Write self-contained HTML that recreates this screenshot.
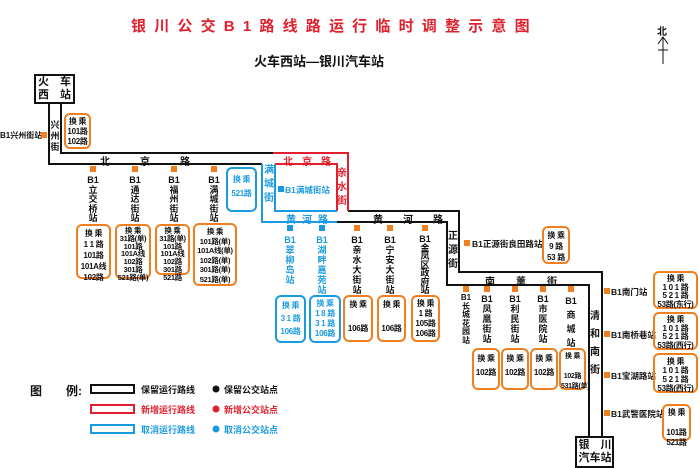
<!DOCTYPE html>
<html><head><meta charset="utf-8"><style>
body{margin:0;width:700px;height:468px;background:#fff;position:relative;overflow:hidden;font-family:"Liberation Sans","Noto Sans CJK SC",sans-serif;font-weight:bold;color:#111}
div{position:absolute;white-space:nowrap}
.v{font-size:9px;line-height:9.5px;text-align:center;width:14px}
.o{border:2px solid #f07f1f;border-radius:6px;font-size:8px;line-height:10px;text-align:center;box-sizing:border-box;padding-top:2px;letter-spacing:-0.3px;overflow:visible}
.b{border-color:#1a9be0;color:#1a9be0}
.m{width:6px;height:6px;background:#f07f1f}
.mb{background:#1a9be0}
.t{font-size:9px}
.bl{color:#1a9be0}
</style></head><body>
<svg width="700" height="468" style="position:absolute;left:0;top:0" fill="none" stroke-width="2">
<g stroke="#111">
<rect x="35" y="75" width="39" height="28" fill="#fff"/>
<polyline points="49,103 49,164 262,164"/>
<polyline points="61,103 61,153 273,153"/>
<polyline points="348,211 459,211 459,272 602,272 602,437"/>
<polyline points="337,222 447,222 447,285 589,285 589,437"/>
<rect x="576" y="437" width="37" height="30" fill="#fff"/>
<line x1="663" y1="37" x2="663" y2="64" stroke-width="1"/>
<polyline points="658,44 663,37 668,44" stroke-width="1"/>
<line x1="658" y1="50" x2="668" y2="50" stroke-width="1"/>
</g>
<g stroke="#e0202e">
<polyline points="273,153 348,153 348,211"/>
<polyline points="275,164 337,164 337,211"/>
</g>
<g stroke="#1a9be0">
<polyline points="262,164 262,222 337,222"/>
<polyline points="275,164 275,211 337,211"/>
</g>
<rect x="91" y="385" width="43" height="8" stroke="#111" stroke-width="2"/>
<rect x="91" y="405" width="43" height="8" stroke="#e0202e" stroke-width="2"/>
<rect x="91" y="425" width="43" height="8" stroke="#1a9be0" stroke-width="2"/>
<circle cx="216" cy="389" r="3.5" fill="#111" stroke="none"/>
<circle cx="216" cy="409" r="3.5" fill="#e0202e" stroke="none"/>
<circle cx="216" cy="429" r="3.5" fill="#1a9be0" stroke="none"/>
</svg>

<div style="left:131px;top:15px;font-size:15px;color:#e0202e;letter-spacing:8.2px">银川公交B1路线路运行临时调整示意图</div>
<div style="left:254px;top:51px;font-size:13px">火车西站—银川汽车站</div>
<div style="left:657px;top:23px;font-size:10px">北</div>

<div style="left:38px;top:76px;font-size:11px;line-height:13px">火　车<br>西　站</div>
<div style="left:578px;top:439px;font-size:11px;line-height:13px;width:34px;text-align:center">银　川<br>汽车站</div>

<div class="v" style="left:48px;top:120px;line-height:11px">兴<br>州<br>街</div>
<div class="t" style="left:100px;top:153px;font-size:10px;letter-spacing:30px">北京路</div>
<div class="t" style="left:283px;top:153px;font-size:10px;letter-spacing:9px;color:#e0202e">北京路</div>
<div class="v" style="left:262px;top:164px;line-height:14px;font-size:10px;color:#1a9be0">满<br>城<br>街</div>
<div class="v" style="left:335px;top:167px;line-height:14px;font-size:10px;color:#e0202e">亲<br>水<br>街</div>
<div class="t" style="left:286px;top:211px;font-size:10px;letter-spacing:6px;color:#1a9be0">黄河路</div>
<div class="t" style="left:373px;top:211px;font-size:10px;letter-spacing:20px">黄河路</div>
<div class="v" style="left:446px;top:230px;line-height:14px;font-size:10px">正<br>源<br>街</div>
<div class="t" style="left:485px;top:273px;font-size:10px;letter-spacing:21px">南薰街</div>
<div class="v" style="left:588px;top:308px;line-height:18px;font-size:10px">清<br>和<br>南<br>街</div>

<div class="t" style="left:0;top:130px;font-size:8px">B1兴州街站</div>
<div class="m" style="left:41px;top:132px"></div>
<div class="o" style="left:64px;top:113px;width:27px;height:36px">换 乘<br>101路<br>102路</div>

<div class="m" style="left:90px;top:166px"></div><div class="v" style="left:86px;top:176px">B1<br>立<br>交<br>桥<br>站</div>
<div class="m" style="left:132px;top:166px"></div><div class="v" style="left:128px;top:176px">B1<br>通<br>达<br>街<br>站</div>
<div class="m" style="left:171px;top:166px"></div><div class="v" style="left:167px;top:176px">B1<br>福<br>州<br>街<br>站</div>
<div class="m" style="left:211px;top:166px"></div><div class="v" style="left:207px;top:176px">B1<br>满<br>城<br>街<br>站</div>
<div class="o" style="left:76px;top:224px;width:35px;height:55px;line-height:11px">换 乘<br>1 1 路<br>101路<br>101A线<br>102路</div>
<div class="o" style="left:115px;top:224px;width:36px;height:55px;font-size:7.5px;line-height:7.8px;padding-top:1px">换 乘<br>31路(单)<br>101路<br>101A线<br>102路<br>301路<br>521路(单)</div>
<div class="o" style="left:155px;top:224px;width:35px;height:51px;font-size:7.5px;line-height:7.8px;padding-top:1px">换 乘<br>31路(单)<br>101路<br>101A线<br>102路<br>301路<br>521路</div>
<div class="o" style="left:193px;top:223px;width:44px;height:63px;font-size:7.5px;line-height:9.5px">换 乘<br>101路(单)<br>101A线(单)<br>102路(单)<br>301路(单)<br>521路(单)</div>
<div class="o b" style="left:226px;top:167px;width:31px;height:45px;line-height:14px;padding-top:4px">换 乘<br>521路</div>

<div class="m mb" style="left:278px;top:186px"></div>
<div class="t bl" style="left:285px;top:184px;font-size:8.5px">B1满城街站</div>

<div class="m mb" style="left:287px;top:225px"></div><div class="v bl" style="left:283px;top:235px;line-height:10px">B1<br>翠<br>柳<br>岛<br>站</div>
<div class="m mb" style="left:319px;top:225px"></div><div class="v bl" style="left:315px;top:235px;line-height:10px">B1<br>湖<br>畔<br>嘉<br>苑<br>站</div>
<div class="m" style="left:354px;top:225px"></div><div class="v" style="left:350px;top:235px;line-height:10px">B1<br>亲<br>水<br>大<br>街<br>站</div>
<div class="m" style="left:387px;top:225px"></div><div class="v" style="left:383px;top:235px;line-height:10px">B1<br>宁<br>安<br>大<br>街<br>站</div>
<div class="m" style="left:422px;top:225px"></div><div class="v" style="left:418px;top:235px;line-height:8.5px">B1<br>金<br>凤<br>区<br>政<br>府<br>站</div>
<div class="o b" style="left:275px;top:295px;width:31px;height:48px;line-height:13px">换 乘<br>3 1 路<br>106路</div>
<div class="o b" style="left:309px;top:295px;width:32px;height:48px;line-height:10px">换 乘<br>1 8 路<br>3 1 路<br>106路</div>
<div class="o" style="left:343px;top:295px;width:30px;height:47px;line-height:12px">换 乘<br><br>106路</div>
<div class="o" style="left:377px;top:295px;width:29px;height:47px;line-height:12px">换 乘<br><br>106路</div>
<div class="o" style="left:411px;top:295px;width:29px;height:47px;line-height:10px">换 乘<br>1 路<br>105路<br>106路</div>

<div class="m" style="left:464px;top:240px"></div>
<div class="t" style="left:472px;top:238px;font-size:8.5px">B1正源街良田路站</div>
<div class="o" style="left:542px;top:226px;width:28px;height:38px;line-height:11px">换 乘<br>9 路<br>53 路</div>

<div class="m" style="left:463px;top:286px"></div><div class="v" style="left:459px;top:294px;font-size:8px;line-height:8.5px">B1<br>长<br>城<br>花<br>园<br>站</div>
<div class="m" style="left:484px;top:286px"></div><div class="v" style="left:480px;top:294px;line-height:10px">B1<br>凤<br>凰<br>街<br>站</div>
<div class="m" style="left:512px;top:286px"></div><div class="v" style="left:508px;top:294px;line-height:10px">B1<br>利<br>民<br>街<br>站</div>
<div class="m" style="left:540px;top:286px"></div><div class="v" style="left:536px;top:294px;line-height:10px">B1<br>市<br>医<br>院<br>站</div>
<div class="m" style="left:568px;top:286px"></div><div class="v" style="left:564px;top:294px;line-height:14px">B1<br>商<br>城<br>站</div>
<div class="o" style="left:472px;top:348px;width:28px;height:42px;line-height:14px">换 乘<br>102路</div>
<div class="o" style="left:501px;top:348px;width:28px;height:42px;line-height:14px">换 乘<br>102路</div>
<div class="o" style="left:530px;top:348px;width:28px;height:42px;line-height:14px">换 乘<br>102路</div>
<div class="o" style="left:559px;top:348px;width:27px;height:42px;line-height:10px;font-size:7px">换 乘<br><br>102路<br>531路(单)</div>

<div class="m" style="left:604px;top:288px"></div><div class="t" style="left:611px;top:286px;font-size:8.5px">B1南门站</div>
<div class="m" style="left:604px;top:331px"></div><div class="t" style="left:611px;top:329px;font-size:8.5px">B1南桥巷站</div>
<div class="m" style="left:604px;top:372px"></div><div class="t" style="left:611px;top:370px;font-size:8.5px">B1宝湖路站</div>
<div class="m" style="left:604px;top:410px"></div><div class="t" style="left:611px;top:408px;font-size:8.5px">B1武警医院站</div>
<div class="o" style="left:653px;top:271px;width:45px;height:38px;line-height:8.7px">换 乘<br>1 0 1 路<br>5 2 1 路<br>53路(东行)</div>
<div class="o" style="left:653px;top:312px;width:45px;height:38px;line-height:8.7px">换 乘<br>1 0 1 路<br>5 2 1 路<br>53路(西行)</div>
<div class="o" style="left:653px;top:353px;width:45px;height:40px;line-height:9px">换 乘<br>1 0 1 路<br>5 2 1 路<br>53路(西行)</div>
<div class="o" style="left:662px;top:404px;width:29px;height:37px;line-height:10px">换 乘<br><br>101路<br>521路</div>

<div class="t" style="left:30px;top:382px;font-size:12px">图　　例:</div>
<div class="t" style="left:141px;top:383px">保留运行路线</div>
<div class="t" style="left:224px;top:383px">保留公交站点</div>
<div class="t" style="left:141px;top:403px;color:#e0202e">新增运行路线</div>
<div class="t" style="left:224px;top:403px;color:#e0202e">新增公交站点</div>
<div class="t" style="left:141px;top:423px;color:#1a9be0">取消运行路线</div>
<div class="t" style="left:224px;top:423px;color:#1a9be0">取消公交站点</div>
</body></html>
